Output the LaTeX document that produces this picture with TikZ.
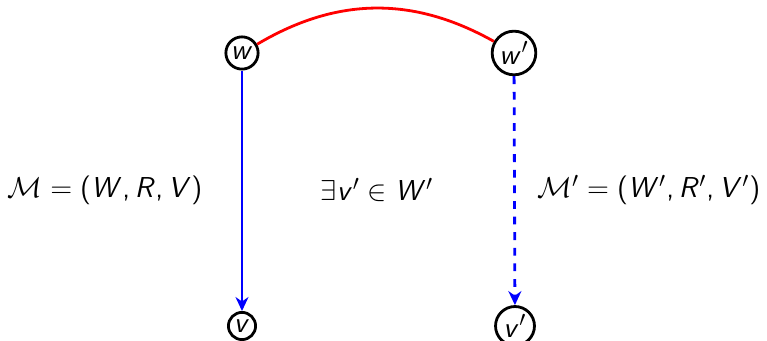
\documentclass[tikz,border=0pt]{standalone}
\usepackage{amsmath}
\usepackage{amsfonts}
\usetikzlibrary{arrows.meta}

% sans-serif math letters (as on slides)
\DeclareSymbolFont{sfops}{OT1}{cmss}{m}{n}
\DeclareSymbolFont{sfletters}{OT1}{cmss}{m}{sl}
\DeclareMathSymbol{W}{\mathalpha}{sfletters}{`W}
\DeclareMathSymbol{R}{\mathalpha}{sfletters}{`R}
\DeclareMathSymbol{V}{\mathalpha}{sfletters}{`V}
\DeclareMathSymbol{v}{\mathalpha}{sfletters}{`v}
\DeclareMathSymbol{w}{\mathalpha}{sfletters}{`w}
\DeclareMathSymbol{(}{\mathopen}{sfops}{`(}
\DeclareMathSymbol{)}{\mathclose}{sfops}{`)}
\DeclareMathSymbol{,}{\mathpunct}{sfops}{`,}

\begin{document}
\begin{tikzpicture}[>={Stealth[length=7pt,width=6.5pt]}, x=0.5pt, y=-0.5pt,
    every node/.style={font=\fontsize{15}{18}\selectfont},
    world/.style={draw, line width=1.4pt, circle, inner sep=1.2pt}]
    \useasboundingbox (0,0) rectangle (767,341);

    % Welten
    \node[world] (w) at (242,53) {$w$};
    \node[world] (w2) at (514,53) {$w'$};
    \node[world] (v) at (242,326) {$v$};
    \node[world] (v2) at (515,326) {$v'$};

    % Relationen
    \draw[red, line width=1.4pt] (w) to[bend left=30] (w2);
    \draw[->, blue, line width=1.4pt] (w) -- (v);
    \draw[->, blue, line width=1.4pt, dash pattern=on 3.9pt off 3.9pt] (w2) -- (v2);

    % Modelle
    \node (M) at (105,190) {$\mathcal{M} = (W, R, V)$};
    \node (ex) at (377,190) {$\exists v' \in W'$};
    \node (M2) at (649,190) {$\mathcal{M}' = (W', R', V')$};
\end{tikzpicture}
\end{document}
